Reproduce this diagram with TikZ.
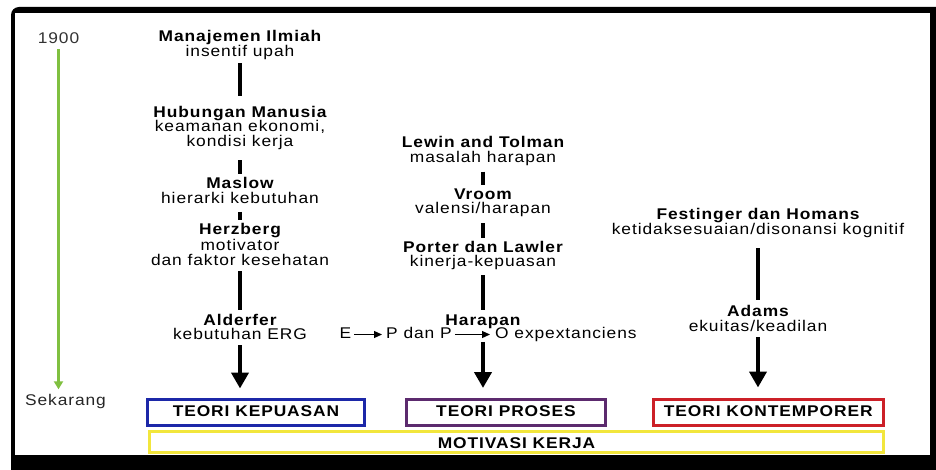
\documentclass[tikz,border=0pt]{standalone}
\usepackage{fontspec}
\setmainfont{Liberation Sans}[FakeStretch=1.12,LetterSpace=6]
\usetikzlibrary{arrows.meta}
\definecolor{boxblue}{RGB}{28,40,168}
\definecolor{boxpurple}{RGB}{92,42,110}
\definecolor{boxred}{RGB}{204,32,40}
\definecolor{boxyellow}{RGB}{242,230,60}
\definecolor{timegreen}{RGB}{128,192,64}
\begin{document}
\begin{tikzpicture}[x=1pt,y=-1pt,
  txt/.style={inner sep=0pt,anchor=base,text height=11pt,text depth=3pt,
    font=\fontsize{15.5}{15}\selectfont},
  ttl/.style={txt,font=\fontsize{15.5}{15}\selectfont\bfseries},
  dsc/.style={txt},
  bar/.style={line width=4pt,black},
  flow/.style={line width=4pt,black,-{Triangle[width=17pt,length=16pt]}},
  timeline/.style={timegreen,line width=3pt,-{Triangle[width=9pt,length=8pt]}},
  smallarrow/.style={line width=1.2pt,black,-{Triangle[width=7pt,length=8pt]}},
  theory/.style={draw,line width=3pt,inner sep=0pt,minimum height=26pt,
    text height=11pt,text depth=3pt,font=\fontsize{15.5}{15}\selectfont\bfseries}
]
\useasboundingbox (0,0) rectangle (936,470);
\clip (0,0) rectangle (936,470);
\fill[white] (0,0) rectangle (936,470);

% dark frame
\fill[black,rounded corners=8pt] (11,7) rectangle (946,482);
\fill[white] (15,13.3) rectangle (929.7,455);

% time axis
\node[dsc,text=black!80] (t0) at (58.5,43.3) {1900};
\node[dsc,text=black!85] (tn) at (65.5,405) {Sekarang};
\draw[timeline,shorten <=2.7pt,shorten >=4.5pt] (t0.south) -- (t0.south |- tn.north);

% column 1: satisfaction theories
\node[ttl] (mi) at (240,41.7) {Manajemen Ilmiah};
\node[dsc] (mi2) at (240,56.7) {insentif upah};
\node[ttl] (hm) at (240,117.3) {Hubungan Manusia};
\node[dsc] (hm2) at (240,132) {keamanan ekonomi,};
\node[dsc] (hm3) at (240,146.5) {kondisi kerja};
\node[ttl] (ms) at (240,188.8) {Maslow};
\node[dsc] (ms2) at (240,203.7) {hierarki kebutuhan};
\node[ttl] (hz) at (240,234.5) {Herzberg};
\node[dsc] (hz2) at (240,250.3) {motivator};
\node[dsc] (hz3) at (240,265.3) {dan faktor kesehatan};
\node[ttl] (al) at (240,325) {Alderfer};
\node[dsc] (al2) at (240,339.5) {kebutuhan ERG};

\draw[bar,shorten <=3.3pt,shorten >=10.3pt] (mi2.south) -- (hm.north);
\draw[bar,shorten <=10.5pt,shorten >=3.8pt] (hm3.south) -- (ms.north);
\draw[bar,shorten <=5pt,shorten >=3.5pt] (ms2.south) -- (hz.north);
\draw[bar,shorten <=2.7pt,shorten >=4pt] (hz3.south) -- (al.north);

% column 2: process theories
\node[ttl] (lt) at (483,147.5) {Lewin and Tolman};
\node[dsc] (lt2) at (483,162.5) {masalah harapan};
\node[ttl] (vr) at (483,199.3) {Vroom};
\node[dsc] (vr2) at (483,213.3) {valensi/harapan};
\node[ttl] (pl) at (483,252.7) {Porter dan Lawler};
\node[dsc] (pl2) at (483,266.7) {kinerja-kepuasan};
\node[ttl] (hr) at (483,325) {Harapan};
\node[dsc,anchor=base west] (ee) at (339.5,338.5) {E};
\node[dsc,anchor=base west] (pdp) at (386,338.5) {P dan P};
\node[dsc,anchor=base west] (oex) at (495,338.5) {O expextanciens};
\draw[smallarrow,shorten <=3pt,shorten >=4pt] (ee.east) -- (pdp.west);
\draw[smallarrow,shorten <=3pt,shorten >=5pt] (pdp.east) -- (oex.west);

\draw[bar,shorten <=6pt,shorten >=3.3pt] (lt2.south) -- (vr.north);
\draw[bar,shorten <=6.7pt,shorten >=3.7pt] (vr2.south) -- (pl.north);
\draw[bar,shorten <=5.3pt,shorten >=4pt] (pl2.south) -- (hr.north);

% column 3: contemporary theories
\node[ttl] (fh) at (758,220) {Festinger dan Homans};
\node[dsc] (fh2) at (758,235) {ketidaksesuaian/disonansi kognitif};
\node[ttl] (ad) at (758,316) {Adams};
\node[dsc] (ad2) at (758,331) {ekuitas/keadilan};
\draw[bar,shorten <=10pt,shorten >=5pt] (fh2.south) -- (ad.north);

% theory groups
\node[theory,draw=boxblue,minimum width=217pt] (tk) at (256,412.5) {TEORI KEPUASAN};
\node[theory,draw=boxpurple,minimum width=199pt] (tp) at (506,412.5) {TEORI PROSES};
\node[theory,draw=boxred,minimum width=230.5pt] (tc) at (768.25,412.5) {TEORI KONTEMPORER};
\node[theory,draw=boxyellow,minimum width=734pt,minimum height=21pt,text height=15pt]
  (mk) at (516.5,442) {MOTIVASI KERJA};

\draw[flow,shorten <=2.5pt,shorten >=9.5pt] (al2.south) -- (al2.south |- tk.north);
\draw[flow,shorten <=13.7pt,shorten >=10pt] (hr.south) -- (hr.south |- tp.north);
\draw[flow,shorten <=3pt,shorten >=10.5pt] (ad2.south) -- (ad2.south |- tc.north);
\end{tikzpicture}
\end{document}
